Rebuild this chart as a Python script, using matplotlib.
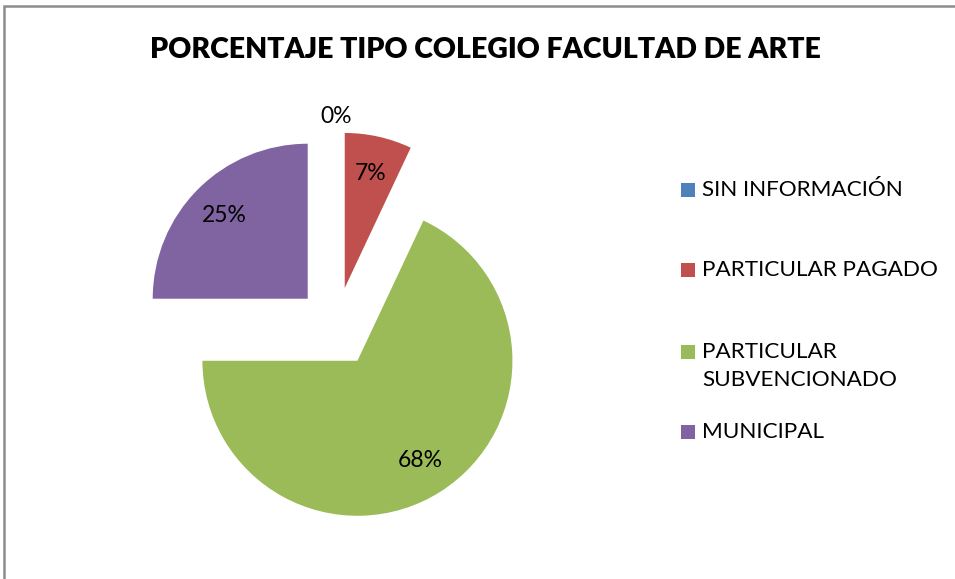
import math
import textwrap
import matplotlib
matplotlib.use("Agg")
import matplotlib.pyplot as plt
from matplotlib.patches import Rectangle

plt.rcParams['font.family'] = ['Lato', 'DejaVu Sans']

title = "PORCENTAJE TIPO COLEGIO FACULTAD DE ARTE"
categories = ["SIN INFORMACIÓN", "PARTICULAR PAGADO", "PARTICULAR SUBVENCIONADO", "MUNICIPAL"]
values = [0, 7, 68, 25]
colors = ["#4F81BD", "#C0504D", "#9BBB59", "#8064A2"]

W, H = 955, 579
fig = plt.figure(figsize=(W / 100, H / 100), dpi=100)
ax = fig.add_axes([0, 0, 1, 1])
ax.set_xlim(0, W)
ax.set_ylim(H, 0)
ax.axis('off')

# chart border (only left/top visible in crop)
fig.patches.append(Rectangle((4 / W, -0.05), 1.1, (H - 6) / H + 0.05, transform=fig.transFigure,
                             fill=False, edgecolor="#8c8c8c", linewidth=1.8))

fig.text(485 / W, 1 - 50 / H, title, ha='center', va='center', fontsize=20.5, fontweight='heavy')

# pie in its own axes (y up)
pax = fig.add_axes([0, 0, 1, 1])
pax.set_xlim(0, W)
pax.set_ylim(0, H)
pax.axis('off')
cx, cy, r, ex = 336, H - 327, 155, 40
wedges, texts, autotexts = pax.pie(values, colors=colors, startangle=90, counterclock=False,
                                   center=(cx, cy), radius=r, explode=[ex] * len(values),
                                   autopct='%1.0f%%', pctdistance=0.76,
                                   textprops=dict(fontsize=16.5))
pax.set_xlim(0, W)
pax.set_ylim(0, H)
pax.set_aspect('equal')
for w, t, v in zip(wedges, autotexts, values):
    if v == 0:
        thm = math.radians((w.theta1 + w.theta2) / 2)
        x0, y0 = w.center
        t.set_position((x0 + 1.1 * r * math.cos(thm), y0 + 1.1 * r * math.sin(thm)))

# legend drawn manually
leg_y = [190, 270, 352, 432]
for lab, col, y in zip(categories, colors, leg_y):
    ax.add_patch(Rectangle((681, y - 7), 14, 14, facecolor=col, edgecolor='none'))
    txt = "\n".join(textwrap.wrap(lab, 20))
    ax.text(702, y - 10, txt, ha='left', va='top', fontsize=16.2, linespacing=1.5)

fig.savefig("out.png", dpi=100)
